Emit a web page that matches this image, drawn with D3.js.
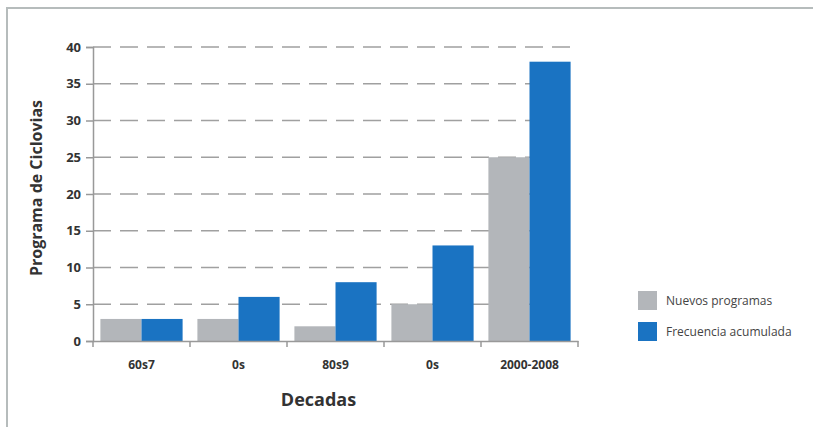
<!DOCTYPE html>
<html>
<head>
<meta charset="utf-8">
<script src="https://cdn.jsdelivr.net/npm/d3@7"></script>
<style>
  body { margin: 0; background: #fff; }
  text { font-family: "Open Sans", "Noto Sans", sans-serif; }
</style>
</head>
<body>
<svg id="chart" width="813" height="427"></svg>
<script>
var decadas = ['60s7', '0s', '80s9', '0s ', '2000-2008'];
var nuevos = [3, 3, 2, 5, 25];
var acumulada = [3, 6, 8, 13, 38];
var yTicks = [0, 5, 10, 15, 20, 25, 30, 35, 40];
var series = ['Nuevos programas', 'Frecuencia acumulada'];
var colores = ['#b3b6ba', '#1a73c2'];

var svg = d3.select('#chart');

// frame (top + left edge only visible)
svg.append('line').attr('x1', 6).attr('x2', 813).attr('y1', 8).attr('y2', 8)
    .attr('stroke', '#b6bcbc').attr('stroke-width', 2);
svg.append('line').attr('x1', 7).attr('x2', 7).attr('y1', 8).attr('y2', 427)
    .attr('stroke', '#b6bcbc').attr('stroke-width', 2);

var padding = {l: 93, r: 578, t: 47, b: 341};

var xScale = d3.scaleBand()
    .domain(decadas)
    .range([padding.l, padding.r]);

var x1 = d3.scaleBand()
    .domain(series)
    .range([0, xScale.bandwidth()])
    .paddingOuter(0.18);

var yScale = d3.scaleLinear()
    .domain([0, 40])
    .range([padding.b, padding.t]);

// gridlines
svg.append('g').selectAll('line')
    .data(yTicks.filter(function(d) { return d > 0; }))
    .enter().append('line')
    .attr('x1', padding.l)
    .attr('x2', padding.r)
    .attr('y1', function(d) { return yScale(d); })
    .attr('y2', function(d) { return yScale(d); })
    .attr('stroke', '#a0a0a0')
    .attr('stroke-width', 1.5)
    .attr('stroke-dasharray', '18,9');

// bars
var rows = decadas.map(function(d, i) {
    return {cat: d, vals: [nuevos[i], acumulada[i]]};
});

var groups = svg.append('g').selectAll('g')
    .data(rows)
    .enter().append('g')
    .attr('transform', function(d) { return 'translate(' + xScale(d.cat) + ',0)'; });

groups.selectAll('rect')
    .data(function(d) { return d.vals.map(function(v, j) { return {s: series[j], v: v, c: colores[j]}; }); })
    .enter().append('rect')
    .attr('x', function(d) { return x1(d.s); })
    .attr('width', x1.bandwidth())
    .attr('y', function(d) { return yScale(d.v); })
    .attr('height', function(d) { return padding.b - yScale(d.v); })
    .attr('fill', function(d) { return d.c; });

// y axis
var yAxis = svg.append('g')
    .attr('transform', 'translate(' + padding.l + ',0)')
    .call(d3.axisLeft(yScale).tickValues(yTicks).tickSize(7).tickPadding(5));
yAxis.select('.domain').attr('stroke', '#999').attr('stroke-width', 1.5);
yAxis.selectAll('.tick line').attr('stroke', '#999').attr('stroke-width', 1.5);
yAxis.selectAll('text')
    .attr('font-family', '"Open Sans", sans-serif')
    .attr('font-size', 13).attr('font-weight', 'bold').attr('fill', '#333');

// x axis
var xAxis = svg.append('g')
    .attr('transform', 'translate(0,' + padding.b + ')')
    .call(d3.axisBottom(xScale).tickSize(0).tickPadding(19).tickFormat(function(d) { return d.trim(); }));
xAxis.select('.domain').attr('stroke', '#999').attr('stroke-width', 1.5);
xAxis.selectAll('text')
    .attr('font-family', '"Open Sans", sans-serif')
    .attr('font-size', 12).attr('font-weight', 'bold').attr('fill', '#333');

// tick marks at band edges
var edges = decadas.map(function(d) { return xScale(d); }).concat([padding.r]);
svg.append('g').selectAll('line')
    .data(edges)
    .enter().append('line')
    .attr('x1', function(d) { return d; })
    .attr('x2', function(d) { return d; })
    .attr('y1', padding.b)
    .attr('y2', padding.b + 6)
    .attr('stroke', '#999')
    .attr('stroke-width', 1.5);

// axis titles
svg.append('text')
    .attr('x', (padding.l + padding.r) / 2 - 17)
    .attr('y', 406)
    .attr('text-anchor', 'middle')
    .attr('font-size', 18).attr('font-weight', 'bold').attr('fill', '#333')
    .text('Decadas');

svg.append('text')
    .attr('transform', 'translate(42,188) rotate(-90)')
    .attr('text-anchor', 'middle')
    .attr('font-size', 16).attr('font-weight', 'bold').attr('fill', '#333')
    .text('Programa de Ciclovias');

// legend
var legend = svg.append('g').selectAll('g')
    .data(series)
    .enter().append('g')
    .attr('transform', function(d, i) { return 'translate(638,' + (291 + i * 31) + ')'; });

legend.append('rect')
    .attr('width', 19).attr('height', 19)
    .attr('fill', function(d, i) { return colores[i]; });

legend.append('text')
    .attr('x', 28).attr('y', 14)
    .attr('font-size', 12).attr('fill', '#444')
    .text(function(d) { return d; });
</script>
</body>
</html>
